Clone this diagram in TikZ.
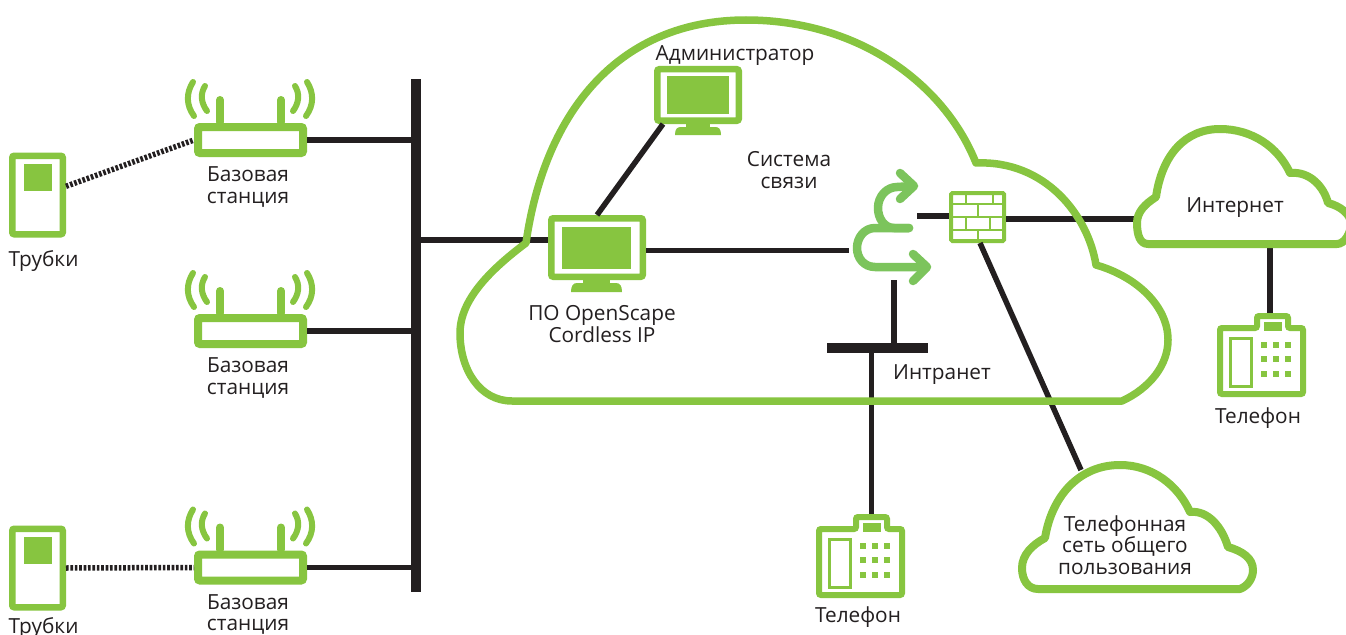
\documentclass[tikz,border=0pt]{standalone}
\usepackage{fontspec}
\setmainfont{Open Sans}
\definecolor{gr}{HTML}{87C540}
\definecolor{rt}{HTML}{7CC45C}
\definecolor{ink}{HTML}{231F20}
\tikzset{
  lw/.style={line width=#1*0.75pt},
  sz/.style 2 args={minimum width=#1*0.75pt,minimum height=#2*0.75pt,inner sep=0pt},
  wire/.style={draw=ink,lw=5.5},
  dots/.style={draw=ink,lw=5.5,dash pattern=on 2pt off 1.3pt},
  cloudline/.style={draw=gr,lw=7.5,line join=round},
  greenbox/.style={draw=gr,fill=white,rounded corners=1.5pt},
  greenfill/.style={fill=gr,inner sep=0pt},
  wave/.style={draw=gr,lw=6,line cap=round},
  router/.style={draw=rt,lw=8.5,line cap=round,line join=round},
  lbl/.style={text=ink,font=\fontsize{15.6pt}{16.3pt}\selectfont,align=center,inner sep=0pt}
}
\newcommand{\basestation}[2]{%
  \begin{scope}[shift={(0,#2)}]
    \draw[draw=gr,lw=8,line cap=round] (220,122) -- (220,100);
    \draw[draw=gr,lw=8,line cap=round] (281,122) -- (281,100);
    \draw[wave] (193,82) .. controls (186,93) and (186,105) .. (194,116);
    \draw[wave] (205,86) .. controls (200,94) and (201,103) .. (207,111);
    \draw[wave] (307,82) .. controls (314,93) and (314,105) .. (306,116);
    \draw[wave] (295,86) .. controls (300,94) and (299,103) .. (293,111);
    \node[greenbox,lw=8,sz={105}{26}] (#1) at (250.5,140) {};
    \node[lbl] (#1t) at (248,187) {Базовая\\станция};
  \end{scope}}
\newcommand{\handset}[2]{%
  \begin{scope}[shift={(0,#2)}]
    \node[greenbox,lw=6.5,sz={50.5}{78.5}] (#1) at (37.5,195) {};
    \node[greenfill,sz={28}{27}] (#1s) at (38,177.5) {};
  \end{scope}}
\newcommand{\phone}[3]{%
  \begin{scope}[shift={(#2,#3)}]
    \draw[draw=gr,fill=white,lw=6,rounded corners=1.5pt]
      (819,529) -- (856,529) -- (856,517) -- (887,517) -- (887,529)
      -- (902,529) -- (902,595) -- (819,595) -- cycle;
    \coordinate (#1) at (871.5,514);
    \node[greenfill,sz={18}{9}] (#1d) at (872,527.5) {};
    \node[draw=gr,fill=white,lw=3,sz={21}{48}] (#1h) at (840,563.5) {};
    \foreach \kx in {863,875,887} \foreach \ky in {546,560,575}
      \fill[gr] (\kx-3,\ky-3) rectangle (\kx+3,\ky+3);
  \end{scope}}
\begin{document}
\begin{tikzpicture}[x=0.75pt,y=-0.75pt]
\clip (0,0) rectangle (1346,635);
\fill[white] (0,0) rectangle (1346,635);

\node[fill=ink,sz={10}{513}] (bus) at (416,335.5) {};
\node[fill=ink,sz={101}{10}] (bar) at (877.5,348) {};
\coordinate (rtleft) at (849,250.5);
\coordinate (rtbot) at (894,280);
\coordinate (rtright) at (917,216);
\coordinate (inetL) at (1137,219);
\coordinate (inetB) at (1270,244);
\coordinate (pstnT) at (1081,470);
\coordinate (busy) at (0,240);

\basestation{bs1}{0}
\basestation{bs2}{191}
\basestation{bs3}{427.5}
\handset{hs1}{0}
\handset{hs3}{373}
\phone{ph1}{0}{0}
\phone{ph2}{401}{-201}

\node[greenbox,lw=6.5,sz={81.5}{51.5}] (adm) at (698,95) {};
\node[greenbox,lw=6.5,sz={91.5}{58.5}] (mon) at (597,247.5) {};

\draw[wire] (bs1.east) -- (bs1.east -| bus.west);
\draw[wire] (bs2.east) -- (bs2.east -| bus.west);
\draw[wire] (bs3.east) -- (bs3.east -| bus.west);
\draw[dots] (hs1.17) -- (bs1.west);
\draw[dots] (hs3.east) -- (bs3.west);
\draw[wire] (bus.east |- busy) -- (mon.west |- busy);
\draw[wire] (mon.east |- rtleft) -- (rtleft);
\draw[wire] (adm.south west) ++(9,0) -- (mon.north);
\draw[wire] (rtbot) -- (rtbot |- bar.north);
\draw[wire] (bar.south -| ph1) -- (ph1);
\draw[wire] (inetB) -- (inetB |- ph2);

\node[greenbox,lw=4,sz={53}{48},rounded corners=1pt] (fw) at (977.5,217) {};
\draw[wire] (rtright) -- (fw.west |- rtright);
\draw[wire] (fw.east |- inetL) -- (inetL);
\draw[wire] (fw.south) ++(2.5,0) -- (pstnT);
\begin{scope}[draw=gr,lw=2.8]
  \draw (fw.west |- 0,204) -- (fw.east |- 0,204);
  \draw (fw.west |- 0,217) -- (fw.east |- 0,217);
  \draw (fw.west |- 0,230) -- (fw.east |- 0,230);
  \draw (966,192) -- (966,204) (993,192) -- (993,204);
  \draw (978,204) -- (978,217);
  \draw (966,217) -- (966,230) (990,217) -- (990,230);
  \draw (978,230) -- (978,242);
\end{scope}

\draw[cloudline] (512,401) -- (1122,401)
  .. controls (1150,388) and (1168,365) .. (1168,340)
  .. controls (1168,305) and (1135,276) .. (1096,265)
  .. controls (1088,215) and (1045,160) .. (976,163)
  .. controls (945,85) and (860,20) .. (746,20)
  .. controls (620,20) and (545,110) .. (526,243)
  .. controls (490,270) and (460,300) .. (460,333)
  .. controls (460,370) and (480,401) .. (512,401) -- cycle;
\draw[cloudline,lw=8] (1148,244) -- (1337,244)
  .. controls (1345,244) and (1351,232) .. (1351,224)
  .. controls (1351,214) and (1340,206) .. (1328,203)
  .. controls (1324,187) and (1310,171) .. (1290,173)
  .. controls (1278,147) and (1252,129) .. (1220,129)
  .. controls (1185,129) and (1162,155) .. (1156,197)
  .. controls (1145,204) and (1137,212) .. (1137,223)
  .. controls (1137,235) and (1140,244) .. (1148,244) -- cycle;
\draw[cloudline,lw=8] (1038,589) -- (1240,589)
  .. controls (1248,586) and (1253,578) .. (1253,570)
  .. controls (1253,558) and (1242,551) .. (1228,547)
  .. controls (1222,527) and (1208,510) .. (1190,512)
  .. controls (1178,485) and (1152,465) .. (1120,465)
  .. controls (1080,465) and (1052,495) .. (1045,538)
  .. controls (1032,545) and (1022,555) .. (1022,568)
  .. controls (1022,580) and (1028,589) .. (1038,589) -- cycle;

\node[greenfill,sz={62}{38}] (admS) at (698,95) {};
\node[greenfill,sz={69}{42}] (monS) at (596.5,248) {};
\fill[gr] (686,124) rectangle (710,128);
\fill[gr] (675,135) .. controls (675,129) and (677,127) .. (681,127) -- (715,127)
  .. controls (719,127) and (721,129) .. (721,135) -- cycle;
\fill[gr] (583,280) rectangle (610,284);
\fill[gr] (571,292) .. controls (571,286) and (573,283) .. (577,283) -- (616,283)
  .. controls (620,283) and (622,286) .. (622,292) -- cycle;

\draw[router] (909,228) -- (894,228) .. controls (884,228) and (878,218) .. (878,208)
  .. controls (878,196) and (887,187) .. (897,187) -- (913,186);
\draw[router] (900,173) -- (914,186) -- (900,199);
\draw[router] (909,228) -- (875,228) .. controls (864,228) and (857,238) .. (857,248)
  .. controls (857,258) and (864,267) .. (875,267) -- (926,267);
\draw[router] (913,254) -- (927,267) -- (913,281);

\node[lbl] (tr1) at (43.5,261) {Трубки};
\node[lbl] (tr3) at (43.5,628.5) {Трубки};
\node[lbl] (tadm) at (735,55.5) {Администратор};
\node[lbl] (tsys) at (789,170) {Система\\связи};
\node[lbl] (tpo) at (602,324) {ПО OpenScape\\Cordless IP};
\node[lbl] (tintra) at (942,374.5) {Интранет};
\node[lbl] (tinet) at (1235,207.5) {Интернет};
\node[lbl] (tpstn) at (1125,545) {Телефонная\\сеть общего\\пользования};
\node[lbl] (tph1) at (858,617) {Телефон};
\node[lbl] (tph2) at (1258,418) {Телефон};
\end{tikzpicture}
\end{document}
